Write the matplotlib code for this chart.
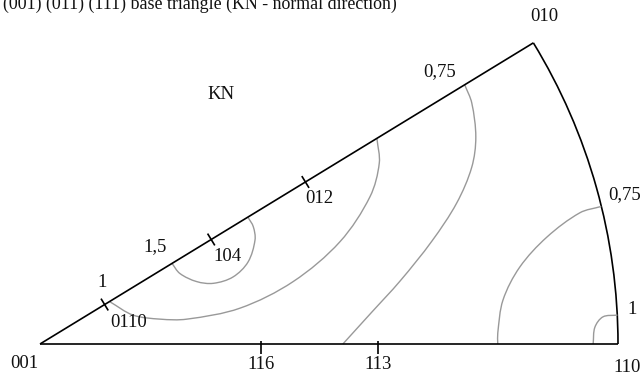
import numpy as np
import matplotlib
matplotlib.use("Agg")
import matplotlib.pyplot as plt
from matplotlib.path import Path
from matplotlib.patches import PathPatch, Arc

plt.rcParams['font.family'] = ['Liberation Serif', 'DejaVu Serif']

# sector geometry: 001 at origin, 110 at (1, 0), 010 on the unit arc
edge_angle = 31.4  # degrees

# pole ticks along the 001-010 edge (fraction of radius) and the 001-110 edge
edge_ticks = [0.131, 0.347, 0.538]
edge_tick_labels = ["0110", "104", "012"]
edge_label_x = [0.154, 0.325, 0.483]
edge_label_y = [0.038, 0.151, 0.251]
base_ticks = [0.382, 0.585]
base_tick_labels = ["116", "113"]

# intensity contours, (x, y) in sector units
c15_x = [0.228, 0.242, 0.271, 0.300, 0.334, 0.360, 0.372, 0.369, 0.360]
c15_y = [0.140, 0.122, 0.108, 0.105, 0.116, 0.142, 0.180, 0.203, 0.219]

c1_x = [0.121, 0.161, 0.208, 0.254, 0.346, 0.438, 0.519, 0.571, 0.587, 0.583]
c1_y = [0.073, 0.050, 0.043, 0.043, 0.062, 0.108, 0.177, 0.255, 0.313, 0.355]

c075a_x = [0.735, 0.747, 0.754, 0.747, 0.721, 0.678, 0.623, 0.573, 0.524]
c075a_y = [0.448, 0.417, 0.358, 0.306, 0.244, 0.178, 0.109, 0.054, 0.0]

c075b_x = [0.971, 0.934, 0.877, 0.830, 0.801, 0.792, 0.792]
c075b_y = [0.238, 0.227, 0.185, 0.133, 0.076, 0.019, 0.0]

c1b_x = [0.999, 0.974, 0.960, 0.957]
c1b_y = [0.050, 0.047, 0.029, 0.0]

contours = [(c15_x, c15_y), (c1_x, c1_y), (c075a_x, c075a_y),
            (c075b_x, c075b_y), (c1b_x, c1b_y)]

# contour level labels: text, x, y
level_labels = [("1,5", 0.199, 0.168), ("1", 0.107, 0.106),
                ("0,75", 0.692, 0.471), ("0,75", 1.012, 0.258),
                ("1", 1.024, 0.059)]

title = "(001) (011) (111) base triangle (KN - normal direction)"


def smooth_path(xs, ys):
    # cubic Bezier through the points, tangents scaled by chord length
    p = np.column_stack([xs, ys])
    h = np.linalg.norm(np.diff(p, axis=0), axis=1)
    m = np.zeros_like(p)
    m[0] = (p[1] - p[0]) / h[0]
    m[-1] = (p[-1] - p[-2]) / h[-1]
    for i in range(1, len(p) - 1):
        m[i] = (p[i + 1] - p[i - 1]) / (h[i - 1] + h[i])
    verts = [p[0]]
    codes = [Path.MOVETO]
    for i in range(len(p) - 1):
        verts += [p[i] + m[i] * h[i] / 3, p[i + 1] - m[i + 1] * h[i] / 3, p[i + 1]]
        codes += [Path.CURVE4] * 3
    return Path(verts, codes)


fig = plt.figure(figsize=(6.44, 3.78), dpi=100)
ax = fig.add_axes([0, 0, 1, 1])
ax.set_xlim(-40 / 578, 604 / 578)
ax.set_ylim(-34 / 578, 344 / 578)
ax.axis('off')

t = np.radians(edge_angle)
d = np.array([np.cos(t), np.sin(t)])
n = np.array([-np.sin(t), np.cos(t)])

frame_kw = dict(color='black', lw=1.2, solid_capstyle='butt')
ax.plot([0, 1], [0, 0], **frame_kw)
ax.plot([0, d[0]], [0, d[1]], **frame_kw)
ax.add_patch(Arc((0, 0), 2, 2, theta1=0, theta2=edge_angle, color='black', lw=1.2))

for xs, ys in contours:
    ax.add_patch(PathPatch(smooth_path(xs, ys), fill=False, edgecolor='#999999', lw=1.0))

tl = 0.012
for r in edge_ticks:
    a = r * d - tl * n
    b = r * d + tl * n
    ax.plot([a[0], b[0]], [a[1], b[1]], **frame_kw)
for r in base_ticks:
    ax.plot([r, r], [0.006, -0.017], **frame_kw)

fs = 13.5
txt = dict(fontsize=fs, ha='center', va='center', color='#111111')

for lab, x, y in zip(edge_tick_labels, edge_label_x, edge_label_y):
    ax.text(x, y, lab, **txt)
for r, lab in zip(base_ticks, base_tick_labels):
    ax.text(r, -0.035, lab, **txt)

ax.text(-0.028, -0.033, "001", **txt)
ax.text(1.016, -0.040, "110", **txt)
ax.text(0.872, 0.566, "010", **txt)
ax.text(0.313, 0.431, "KN", **txt)

for lab, x, y in level_labels:
    ax.text(x, y, lab, **txt)

ax.text(-37 / 578, (344 - 9) / 578, title,
        fontsize=12.9, ha='left', va='baseline', color='#111111')

fig.savefig("out.png", dpi=100)
